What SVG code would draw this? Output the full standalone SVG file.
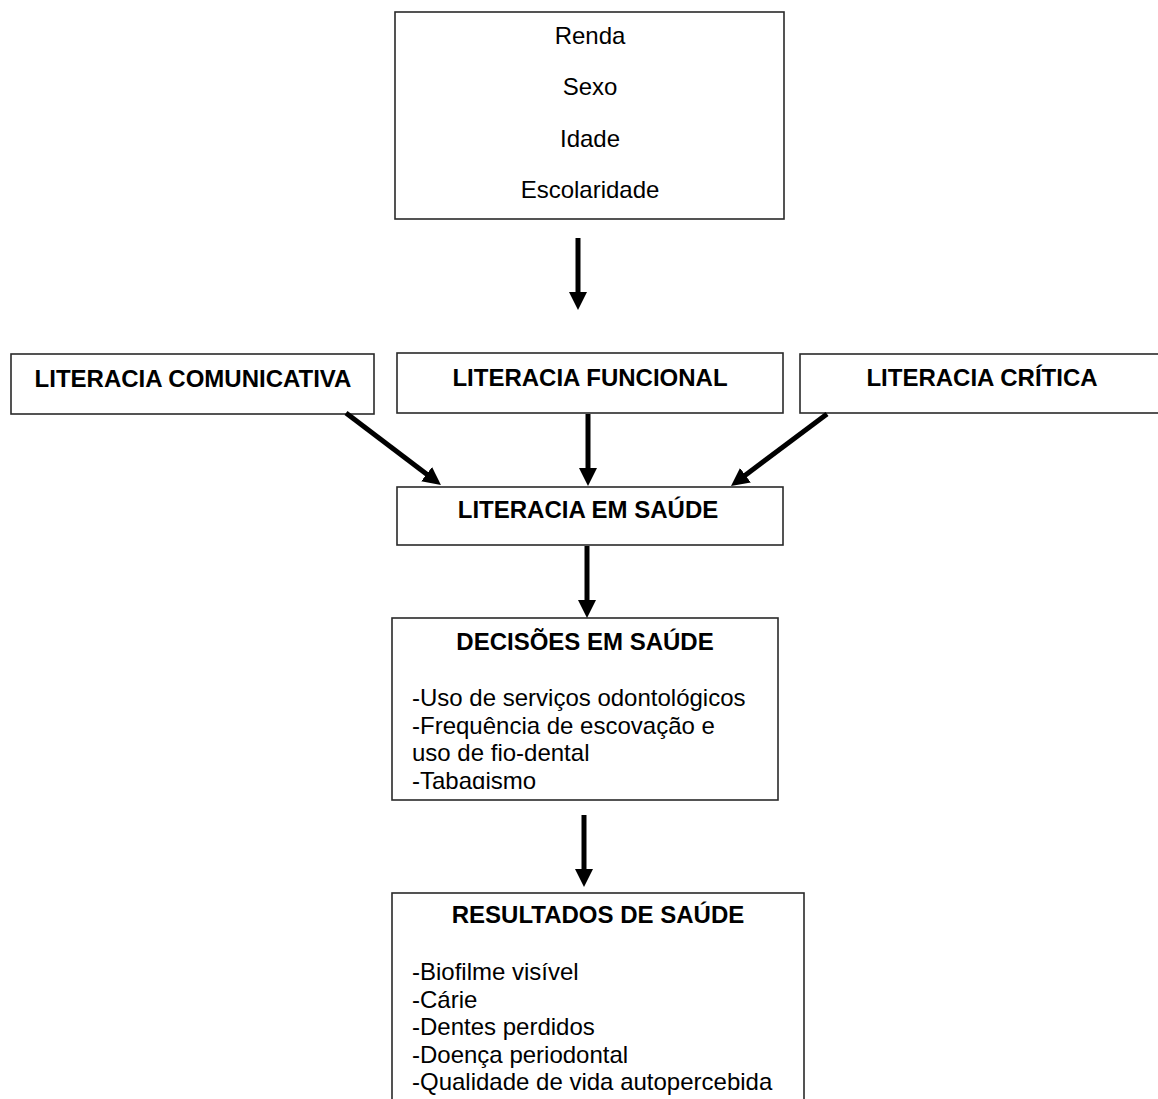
<svg xmlns="http://www.w3.org/2000/svg" width="1158" height="1099" viewBox="0 0 1158 1099">
<style>
.box{fill:#fff;stroke:#2a2a2a;stroke-width:1.6}
.t{font-family:"Liberation Sans",Arial,sans-serif;font-size:24px;fill:#000}
.b{font-weight:bold;text-anchor:middle}
.c{text-anchor:middle}
.conn line{stroke:#000;stroke-width:5;marker-end:url(#ah)}
</style>
<defs>
<marker id="ah" markerUnits="userSpaceOnUse" markerWidth="20" markerHeight="20" refX="6" refY="9" orient="auto">
<path d="M0,0 L18,9 L0,18 Z" fill="#000"/>
</marker>
<clipPath id="clipDec"><rect x="392" y="618" width="386" height="171"/></clipPath>
</defs>
<rect width="1158" height="1099" fill="#fff"/>

<g id="fatores">
<rect class="box" x="395" y="12" width="389" height="207"/>
<text class="t c" x="590" y="44">Renda</text>
<text class="t c" x="590" y="95">Sexo</text>
<text class="t c" x="590" y="147">Idade</text>
<text class="t c" x="590" y="198">Escolaridade</text>
</g>

<g id="comunicativa">
<rect class="box" x="11" y="354" width="363" height="60"/>
<text class="t b" x="193" y="387">LITERACIA COMUNICATIVA</text>
</g>

<g id="funcional">
<rect class="box" x="397" y="353" width="386" height="60"/>
<text class="t b" x="590" y="386">LITERACIA FUNCIONAL</text>
</g>

<g id="critica">
<rect class="box" x="800" y="354" width="380" height="59"/>
<text class="t b" x="982" y="386">LITERACIA CRÍTICA</text>
</g>

<g id="saude">
<rect class="box" x="397" y="487" width="386" height="58"/>
<text class="t b" x="588" y="518">LITERACIA EM SAÚDE</text>
</g>

<g id="decisoes">
<rect class="box" x="392" y="618" width="386" height="182"/>
<text class="t b" x="585" y="650">DECISÕES EM SAÚDE</text>
<g clip-path="url(#clipDec)">
<text class="t" x="412" y="706">-Uso de serviços odontológicos</text>
<text class="t" x="412" y="733.5">-Frequência de escovação e</text>
<text class="t" x="412" y="761">uso de fio-dental</text>
<text class="t" x="412" y="788.5">-Tabagismo</text>
</g>
</g>

<g id="resultados">
<rect class="box" x="392" y="893" width="412" height="230"/>
<text class="t b" x="598" y="923">RESULTADOS DE SAÚDE</text>
<text class="t" x="412" y="980">-Biofilme visível</text>
<text class="t" x="412" y="1007.5">-Cárie</text>
<text class="t" x="412" y="1035">-Dentes perdidos</text>
<text class="t" x="412" y="1062.5">-Doença periodontal</text>
<text class="t" x="412" y="1090">-Qualidade de vida autopercebida</text>
</g>

<g id="connectors" class="conn">
<line x1="578" y1="238" x2="578" y2="298"/>
<line x1="346" y1="413" x2="431.4" y2="477.8"/>
<line x1="588" y1="414" x2="588" y2="474"/>
<line x1="827" y1="414" x2="740.6" y2="478.8"/>
<line x1="587" y1="546" x2="587" y2="606"/>
<line x1="584" y1="815" x2="584" y2="875"/>
</g>
</svg>
